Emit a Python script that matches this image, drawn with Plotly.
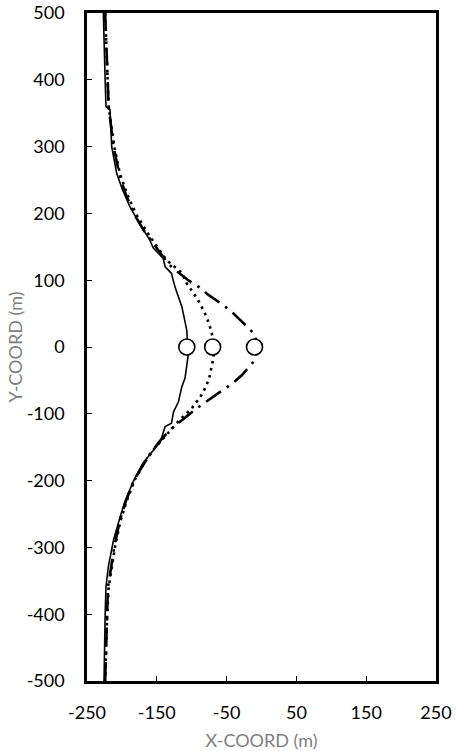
import plotly.graph_objects as go

# Solid curve
solid_y = [500, 444, 400, 360, 355, 300, 260, 235, 210, 185, 160, 148, 133, 120, 110, 90, 60, 25, 0,
           -12, -47, -59, -82, -97, -114, -119, -142, -157, -174, -202, -232, -256, -289, -329, -359,
           -400, -434, -500]
solid_x = [-226.6, -225.6, -224, -222.8, -217, -214.6, -207.5, -199, -188.5, -175, -160, -155, -141,
           -138, -129, -124, -114, -107, -105, -105, -109.6, -114, -119, -126, -129, -138, -145,
           -157, -170, -184, -196, -203, -212, -219.5, -222.8, -224, -224.5, -225.6]

# Dotted curve
dotted_y = [500, 450, 400, 360, 300, 260, 230, 200, 175, 150, 130, 111, 95, 80, 65, 50, 35, 15, 0,
            -17, -32, -47, -60, -72, -82, -92, -109, -132, -150, -175, -200, -230, -260, -300, -360,
            -400, -450, -500]
dotted_x = [-224, -222, -221, -219, -211, -203, -193, -180, -166, -150, -136, -114, -107, -97, -88,
            -81, -75, -70, -68, -69, -72, -75, -80, -86, -93, -100, -117, -136, -152, -169, -182,
            -193, -202, -210, -219, -221, -222, -224]

# Dash-dot curve
dd_y = [500, 450, 400, 360, 300, 260, 230, 200, 175, 150, 135, 120, 100, 90, 78, 63, 50, 38, 18, 0,
        -19, -42, -54, -64, -82, -92, -102, -124, -140, -160, -200, -230, -260, -300, -360, -400,
        -450, -500]
dd_x = [-224, -222, -221, -219, -212, -204, -195, -183, -169, -152, -141, -129, -105, -90, -76, -55,
        -40, -28, -9, -6, -9, -28, -41, -55, -80, -93, -105, -131, -145, -160, -183, -194, -203,
        -211, -220, -221, -222, -224]

# Circle markers
circle_x = [-107, -70, -10]
circle_y = [0, 0, 0]

x_ticks = [-250, -150, -50, 50, 150, 250]
x_ticktext = ["-250", "-150", "-50", "50", "150", "250"]
y_ticks = [500, 400, 300, 200, 100, 0, -100, -200, -300, -400, -500]
y_ticktext = ["500", "400", "300", "200", "100", "0", "-100", "-200", "-300", "-400", "-500"]

fig = go.Figure()
fig.add_trace(go.Scatter(x=solid_x, y=solid_y, mode="lines",
                         line=dict(color="black", width=1.6)))
fig.add_trace(go.Scatter(x=dotted_x, y=dotted_y, mode="lines",
                         line=dict(color="black", width=2.6, dash="2.6px,4.5px")))
fig.add_trace(go.Scatter(x=dd_x, y=dd_y, mode="lines",
                         line=dict(color="black", width=2.6, dash="18px,7px,2.6px,7px")))
fig.add_trace(go.Scatter(x=circle_x, y=circle_y, mode="markers",
                         marker=dict(symbol="circle", size=16, color="white",
                                     line=dict(color="black", width=1.6))))

font_fam = "Lato, Carlito, Calibri, sans-serif"
fig.update_layout(
    width=460, height=751,
    margin=dict(l=87, r=24, t=13, b=70),
    paper_bgcolor="white", plot_bgcolor="white",
    showlegend=False,
    font=dict(family=font_fam, size=18, color="black"),
    xaxis=dict(range=[-250, 250], tickvals=x_ticks, ticktext=x_ticktext, ticks="inside",
               ticklen=5, tickwidth=1, automargin=False, ticklabeloverflow="allow",
               tickcolor="black", showline=True, linecolor="black", linewidth=2.5, mirror=True,
               showgrid=False, zeroline=False, ticklabelstandoff=14,
               tickfont=dict(size=18, color="black"),
               title=dict(text="X-COORD (m)", font=dict(size=18, color="#7f7f7f"), standoff=13)),
    yaxis=dict(range=[-500, 500], tickvals=y_ticks, ticktext=y_ticktext, ticks="inside",
               ticklen=5, tickwidth=1, automargin=False, ticklabeloverflow="allow",
               tickcolor="black", showline=True, linecolor="black", linewidth=2.5, mirror=True,
               showgrid=False, zeroline=False, ticklabelstandoff=16,
               tickfont=dict(size=18, color="black"),
               title=dict(text="Y-COORD (m)", font=dict(size=18, color="#7f7f7f"), standoff=0)),
)

fig.write_html("out.html", config={"displayModeBar": False},
               post_script="document.body.style.margin='0';")
